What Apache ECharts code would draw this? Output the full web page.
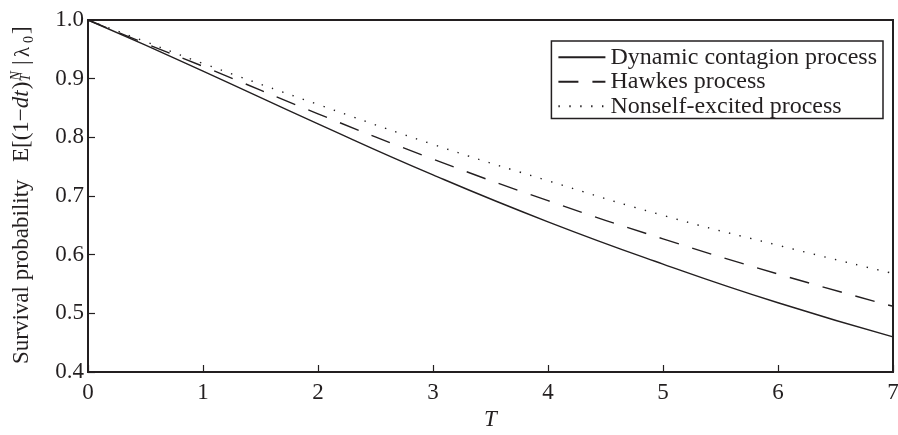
<!DOCTYPE html>
<html>
<head>
<meta charset="utf-8">
<script src="https://cdn.jsdelivr.net/npm/echarts@6/dist/echarts.min.js"></script>
<style>
  html, body { margin: 0; padding: 0; background: #fff; }
  #chart { width: 898px; height: 435px; }
</style>
</head>
<body>
<div id="chart"></div>
<script>
// values
const tValues = [0, 0.5, 1, 2, 3, 4, 5, 6, 7];
const dynamicContagion = [1.0, 0.957, 0.913, 0.823, 0.736, 0.656, 0.584, 0.518, 0.460];
const hawkes = [1.0, 0.960, 0.921, 0.840, 0.763, 0.692, 0.627, 0.567, 0.512];
const nonselfExcited = [1.0, 0.963, 0.926, 0.856, 0.788, 0.726, 0.667, 0.616, 0.568];
const seriesNames = ['Dynamic contagion process', 'Hawkes process', 'Nonself-excited process'];
const xTicks = [0, 1, 2, 3, 4, 5, 6, 7];
const yTicks = [0.4, 0.5, 0.6, 0.7, 0.8, 0.9, 1.0];

const ink = '#231f20';
const serif = '"Liberation Serif", "DejaVu Serif", serif';

const pairs = (ys) => tValues.map((t, i) => [t, ys[i]]);

const chart = echarts.init(document.getElementById('chart'));

const lineSeries = (name, ys, type) => ({
  name: name,
  type: 'line',
  data: pairs(ys),
  smooth: true,
  symbol: 'none',
  lineStyle: { color: ink, width: 1.4, type: type },
  itemStyle: { color: ink }
});

// y axis title, built from pieces so the sub/superscripts can sit right
const ctx = document.createElement('canvas').getContext('2d');
const fontOf = (size, italic) => (italic ? 'italic ' : '') + size + 'px ' + serif;
const widthOf = (text, size, italic) => {
  ctx.font = fontOf(size, italic);
  return ctx.measureText(text).width;
};
const piece = (text, x, y, size, italic) => ({
  type: 'text',
  x: x,
  y: y,
  style: { text: text, font: fontOf(size, italic), fill: ink, verticalAlign: 'middle' }
});

const titlePieces = [];
let cx = 202;
titlePieces.push(piece('Survival probability', 0, 0, 23, false));
titlePieces.push(piece('E[(1\u2212', cx, 0, 23, false));
cx += widthOf('E[(1\u2212', 23, false);
titlePieces.push(piece('dt', cx, 0, 23, true));
cx += widthOf('dt', 23, true) + 1;
titlePieces.push(piece(')', cx, 0, 23, false));
cx = Math.max(cx + widthOf(')', 23, false), 279);
titlePieces.push(piece('N', cx + 1, -6, 14, true));
titlePieces.push(piece('T', cx, 4, 14, true));
cx = Math.max(cx + widthOf('N', 14, true) + 4, 299);
titlePieces.push(piece('|', cx, 0, 23, false));
cx = Math.max(cx + widthOf('|', 23, false) + 3, 307);
titlePieces.push(piece('\u03bb', cx, 1, 21, false));
cx = Math.max(cx + widthOf('\u03bb', 21, false), 321);
titlePieces.push(piece('0', cx, 7, 14, false));
cx = Math.max(cx + widthOf('0', 14, false) + 2, 329);
titlePieces.push(piece(']', cx, 0, 23, false));

const option = {
  animation: false,
  backgroundColor: '#fff',
  grid: {
    left: 88, right: 5, top: 20, bottom: 63,
    outerBoundsMode: 'none',
    containLabel: false,
    show: true, borderColor: ink, borderWidth: 2
  },
  legend: {
    orient: 'vertical',
    right: 15,
    top: 41,
    data: seriesNames,
    itemWidth: 47,
    itemHeight: 14,
    itemGap: 0,
    itemStyle: { opacity: 0 },
    padding: [4, 6, 0, 6],
    borderColor: ink,
    borderWidth: 1.5,
    borderRadius: 0,
    backgroundColor: '#fff',
    textStyle: { fontFamily: serif, fontSize: 24, color: ink, lineHeight: 24.5 }
  },
  xAxis: {
    type: 'value',
    min: 0, max: 7, interval: 1,
    name: 'T',
    nameLocation: 'middle',
    nameGap: 32,
    nameTextStyle: { fontFamily: serif, fontStyle: 'italic', fontSize: 23, color: ink },
    axisLine: { lineStyle: { color: ink, width: 2 } },
    axisTick: { inside: true, length: 7, lineStyle: { color: ink, width: 1.2 } },
    axisLabel: {
      margin: 9,
      fontFamily: serif, fontSize: 23, color: ink,
      formatter: (v) => xTicks.includes(v) ? String(v) : ''
    },
    splitLine: { show: false }
  },
  yAxis: {
    type: 'value',
    min: 0.4, max: 1.0, interval: 0.1,
    axisLine: { show: true, lineStyle: { color: ink, width: 2 } },
    axisTick: { show: true, inside: true, length: 7, lineStyle: { color: ink, width: 1.2 } },
    axisLabel: {
      margin: 4,
      fontFamily: serif, fontSize: 23, color: ink,
      formatter: (v) => {
        const k = yTicks.findIndex((t) => Math.abs(t - v) < 1e-6);
        return k >= 0 ? yTicks[k].toFixed(1) : '';
      }
    },
    splitLine: { show: false }
  },
  graphic: [{
    type: 'group',
    x: 22,
    y: 364,
    rotation: Math.PI / 2,
    children: titlePieces
  }],
  series: [
    lineSeries(seriesNames[0], dynamicContagion, 'solid'),
    lineSeries(seriesNames[1], hawkes, [20, 14]),
    lineSeries(seriesNames[2], nonselfExcited, [1.4, 9.5])
  ]
};

chart.setOption(option);
</script>
</body>
</html>
